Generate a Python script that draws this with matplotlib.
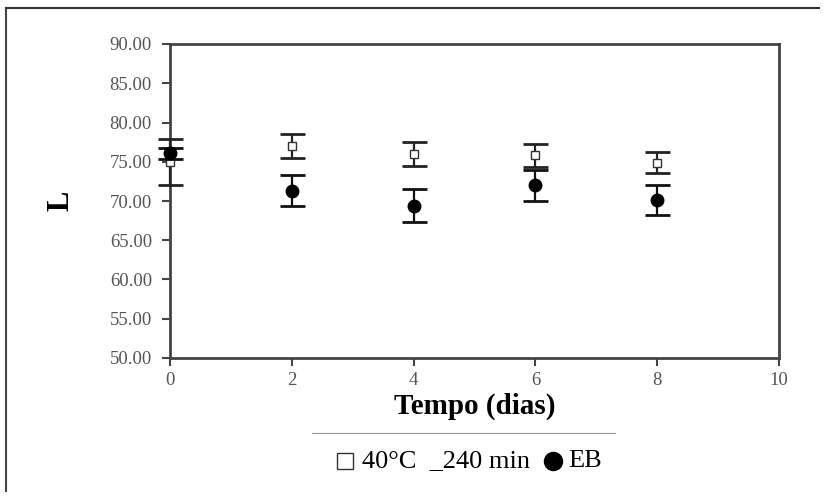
import matplotlib
matplotlib.use("Agg")
from matplotlib import pyplot as plt
from matplotlib.lines import Line2D

plt.rcParams['font.family'] = ['Liberation Serif', 'DejaVu Serif']

# Tempo (dias)
tempo = [0, 2, 4, 6, 8]

# 40°C _240 min (quadrado aberto)
l_40c = [75.0, 77.0, 76.0, 75.8, 74.9]
err_40c = [2.9, 1.5, 1.5, 1.5, 1.3]

# EB (circulo cheio)
l_eb = [76.1, 71.3, 69.4, 72.0, 70.1]
err_eb = [0.7, 2.0, 2.1, 2.0, 1.9]

yticks = [50, 55, 60, 65, 70, 75, 80, 85, 90]
xticks = [0, 2, 4, 6, 8, 10]

fig = plt.figure(figsize=(8.27, 5.01), dpi=100)
ax = fig.add_axes([170 / 827, 1 - 358 / 501, 609 / 827, 314 / 501])

ax.errorbar(tempo, l_40c, yerr=err_40c, fmt="s", color="#222222",
            markerfacecolor="white", markeredgecolor="#333333", markersize=6,
            ecolor="#222222", elinewidth=1.6, capsize=9, capthick=2, zorder=3,
            clip_on=False)
ax.errorbar(tempo, l_eb, yerr=err_eb, fmt="o", color="black",
            markersize=9, ecolor="#111111", elinewidth=1.6, capsize=9,
            capthick=2, zorder=4, clip_on=False)

ax.set_xlim(0, 10)
ax.set_ylim(50, 90)
ax.set_xticks(xticks)
ax.set_yticks(yticks)
ax.set_xticklabels([str(v) for v in xticks])
ax.set_yticklabels(["%.2f" % v for v in yticks])
ax.tick_params(direction="out", length=6, width=1.5, color="#444444",
               labelsize=13.5, labelcolor="#555555")
ax.tick_params(axis="y", pad=7)
ax.tick_params(axis="x", pad=4)

for s in ax.spines.values():
    s.set_linewidth(2)
    s.set_color("#444444")

ax.set_xlabel("Tempo (dias)", fontsize=21, fontweight="bold", labelpad=3)
ax.set_ylabel("L", fontsize=22, fontweight="bold")
ax.yaxis.set_label_coords(-0.155, 0.5)

# moldura externa (topo e esquerda)
fig.add_artist(Line2D([6 / 827, 6 / 827], [1 - 8 / 501, 0.02], transform=fig.transFigure,
                      color="#444444", linewidth=1.5))
fig.add_artist(Line2D([6 / 827, 0.99], [1 - 8 / 501, 1 - 8 / 501], transform=fig.transFigure,
                      color="#333333", linewidth=1.5))

# linha separadora da legenda
fig.add_artist(Line2D([312 / 827, 615 / 827], [1 - 433 / 501, 1 - 433 / 501],
                      transform=fig.transFigure, color="#999999", linewidth=0.8))

# legenda manual
ly = 1 - 461 / 501
fig.add_artist(Line2D([345 / 827], [ly], transform=fig.transFigure, marker="s",
                      markersize=12, markerfacecolor="white", markeredgecolor="#333333",
                      markeredgewidth=1, linestyle="none"))
fig.text(362 / 827, ly, "40°C  _240 min", fontsize=19, va="center", ha="left")
fig.add_artist(Line2D([553 / 827], [ly], transform=fig.transFigure, marker="o",
                      markersize=13, color="black", linestyle="none"))
fig.text(568 / 827, ly, "EB", fontsize=19, va="center", ha="left")

fig.savefig("out.png", dpi=100)
